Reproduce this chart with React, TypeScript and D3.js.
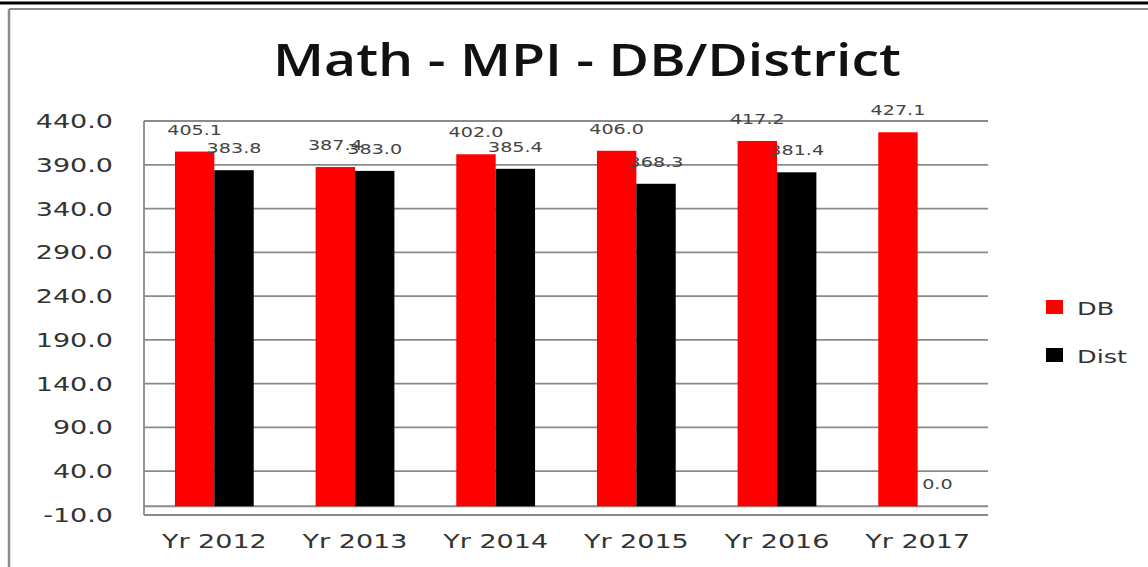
import React from "react";
import * as d3 from "d3";

const categories = ["Yr 2012", "Yr 2013", "Yr 2014", "Yr 2015", "Yr 2016", "Yr 2017"];
const dbValues = [405.1, 387.4, 402.0, 406.0, 417.2, 427.1];
const distValues = [383.8, 383.0, 385.4, 368.3, 381.4, 0.0];
const yTicks = [-10, 40, 90, 140, 190, 240, 290, 340, 390, 440];
const seriesNames = ["DB", "Dist"];
const seriesColors = ["#ff0000", "#000000"];

const W = 1148;
const H = 567;
const SX = 1.42;
const FONT = "'DejaVu Sans', Verdana, sans-serif";

export default function App() {
  const x = d3.scaleBand<string>().domain(categories).range([144, 988]).padding(0);
  const step = x.bandwidth();
  const barW = step * 0.28;
  const y = d3.scaleLinear().domain([-10, 440]).range([515, 121]);
  const series = [dbValues, distValues];
  const gridColor = "#8a8a8a";

  return (
    <svg width={W} height={H} style={{ position: "absolute", left: 0, top: 0, background: "#fff" }}>
      <rect x={0} y={0} width={W} height={H} fill="#fff" />
      {/* outer frame */}
      <line x1={0} x2={W} y1={3} y2={3} stroke="#000" strokeWidth={3} />
      <line x1={9} x2={W} y1={9} y2={9} stroke="#8a8a8a" strokeWidth={2} />
      <line x1={9} x2={9} y1={9} y2={H} stroke="#8a8a8a" strokeWidth={2.5} />

      {/* title */}
      <text
        x={587}
        y={76}
        textAnchor="middle"
        fontFamily="'Open Sans', sans-serif"
        fontWeight={600}
        fontSize={46}
        fill="#111"
        textLength={628}
        lengthAdjust="spacingAndGlyphs"
      >
        Math - MPI - DB/District
      </text>

      {/* gridlines */}
      {yTicks.slice(1).map((t) => (
        <line key={t} x1={144} x2={988} y1={y(t)} y2={y(t)} stroke={gridColor} strokeWidth={1.8} />
      ))}
      <line x1={144} x2={988} y1={y(0)} y2={y(0)} stroke={gridColor} strokeWidth={1.8} />
      {/* axes */}
      <line x1={144} x2={144} y1={y(440)} y2={y(-10)} stroke={gridColor} strokeWidth={1.8} />
      <line x1={144} x2={988} y1={y(-10)} y2={y(-10)} stroke={gridColor} strokeWidth={1.8} />

      {/* y tick labels */}
      {yTicks.map((t) => (
        <text
          key={t}
          transform={`translate(113,${y(t) + 7}) scale(${SX},1)`}
          textAnchor="end"
          fontFamily={FONT}
          fontSize={19}
          fill="#333"
        >
          {t.toFixed(1)}
        </text>
      ))}

      {/* bars */}
      {categories.map((c, i) => {
        const center = (x(c) as number) + step / 2;
        return (
          <g key={c}>
            {series.map((vals, s) => {
              const bx = center - barW + s * barW;
              const v = vals[i];
              return (
                <g key={s}>
                  <rect
                    x={bx}
                    y={Math.min(y(v), y(0))}
                    width={barW}
                    height={Math.abs(y(0) - y(v))}
                    fill={seriesColors[s]}
                  />
                  <text
                    transform={`translate(${bx + barW / 2},${y(v) - 17}) scale(${SX},1)`}
                    textAnchor="middle"
                    fontFamily={FONT}
                    fontSize={13.5}
                    fill="#444"
                  >
                    {v.toFixed(1)}
                  </text>
                </g>
              );
            })}
            <text
              transform={`translate(${center},548) scale(${SX},1)`}
              textAnchor="middle"
              fontFamily={FONT}
              fontSize={19}
              fill="#333"
            >
              {c}
            </text>
          </g>
        );
      })}

      {/* legend */}
      {seriesNames.map((n, s) => (
        <g key={n} transform={`translate(1046,${300 + s * 48})`}>
          <rect x={0} y={0} width={17} height={14} fill={seriesColors[s]} />
          <text
            transform={`translate(31,15) scale(${SX},1)`}
            fontFamily={FONT}
            fontSize={18}
            fill="#333"
          >
            {n}
          </text>
        </g>
      ))}
    </svg>
  );
}
